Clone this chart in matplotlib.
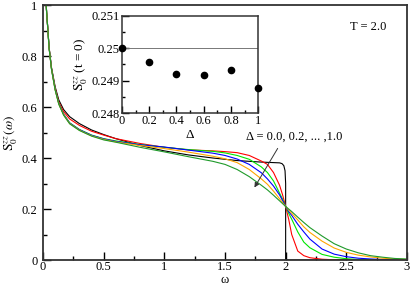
import numpy as np
import matplotlib
matplotlib.use("Agg")
import matplotlib.pyplot as plt
from matplotlib.ticker import MultipleLocator, FormatStrFormatter

plt.rcParams['font.family'] = ['Liberation Serif', 'DejaVu Serif']
plt.rcParams['mathtext.fontset'] = 'stix'

# dati
omega = [0.02, 0.03, 0.04, 0.05, 0.07, 0.1, 0.13, 0.17, 0.22, 0.3, 0.4, 0.5, 0.6, 0.8,
         1.0, 1.2, 1.4, 1.5, 1.6, 1.7, 1.8, 1.85, 1.9, 1.95, 1.975, 2.0, 2.025, 2.05,
         2.1, 2.15, 2.2, 2.3, 2.4, 2.5, 2.6, 2.7, 2.8, 2.9, 3.0]

omega_d0 = [0.02, 0.03, 0.04, 0.05, 0.07, 0.1, 0.13, 0.17, 0.22, 0.3, 0.4, 0.5, 0.6, 0.8,
            1.0, 1.2, 1.4, 1.6, 1.8, 1.9, 1.95, 1.97, 1.985, 1.995, 2.0, 2.0, 3.0]
s_d0 = [1.06, 0.97, 0.905, 0.835, 0.755, 0.68, 0.628, 0.59, 0.562, 0.535, 0.51, 0.492, 0.476, 0.449,
        0.428, 0.412, 0.40, 0.39, 0.384, 0.382, 0.381, 0.378, 0.37, 0.35, 0.30, 0.0, 0.0]

s_d02 = [1.06, 0.97, 0.905, 0.835, 0.753, 0.675, 0.62, 0.582, 0.553, 0.528, 0.505, 0.49, 0.476, 0.457,
         0.442, 0.432, 0.428, 0.425, 0.421, 0.41, 0.388, 0.375, 0.343, 0.293, 0.255, 0.21, 0.16, 0.10,
         0.035, 0.017, 0.009, 0.003, 0.001, 0.0, 0.0, 0.0, 0.0, 0.0, 0.0]
s_d04 = [1.06, 0.97, 0.905, 0.833, 0.75, 0.67, 0.615, 0.572, 0.538, 0.512, 0.49, 0.476, 0.467, 0.453,
         0.442, 0.433, 0.426, 0.42, 0.41, 0.395, 0.365, 0.343, 0.31, 0.262, 0.238, 0.21, 0.183, 0.16,
         0.11, 0.07, 0.048, 0.022, 0.011, 0.005, 0.002, 0.001, 0.0, 0.0, 0.0]
s_d06 = [1.06, 0.97, 0.905, 0.833, 0.75, 0.67, 0.614, 0.571, 0.537, 0.511, 0.489, 0.475, 0.465, 0.452,
         0.443, 0.431, 0.419, 0.41, 0.396, 0.375, 0.342, 0.318, 0.29, 0.255, 0.233, 0.21, 0.19, 0.175,
         0.14, 0.11, 0.082, 0.043, 0.023, 0.013, 0.007, 0.004, 0.002, 0.001, 0.0]
s_d08 = [1.06, 0.97, 0.905, 0.832, 0.749, 0.668, 0.612, 0.569, 0.535, 0.509, 0.487, 0.473, 0.463, 0.449,
         0.437, 0.423, 0.407, 0.397, 0.382, 0.355, 0.318, 0.297, 0.27, 0.24, 0.225, 0.21, 0.196, 0.183,
         0.157, 0.13, 0.108, 0.074, 0.047, 0.03, 0.019, 0.012, 0.007, 0.004, 0.002]
s_d10 = [1.06, 0.97, 0.905, 0.832, 0.748, 0.667, 0.611, 0.568, 0.534, 0.508, 0.486, 0.471, 0.462, 0.442,
         0.424, 0.405, 0.387, 0.375, 0.355, 0.327, 0.293, 0.275, 0.254, 0.232, 0.221, 0.21, 0.2, 0.19,
         0.168, 0.147, 0.127, 0.094, 0.064, 0.043, 0.028, 0.017, 0.011, 0.006, 0.004]

colori = ['black', 'red', '#00e600', 'blue', 'orange', '#1f9a2a']

# inserto: S(t=0) in funzione di Delta
delta = [0.0, 0.2, 0.4, 0.6, 0.8, 1.0]
s_t0 = [0.25, 0.24959, 0.24922, 0.24919, 0.24934, 0.24879]

fs = 9

fig = plt.figure(figsize=(4.11, 2.85), dpi=100)
ax = fig.add_axes([0.1046, 0.0877, 0.8856, 0.8947])

ax.plot(omega_d0, s_d0, color=colori[0], lw=0.8)
for s, c in zip([s_d02, s_d04, s_d06, s_d08, s_d10], colori[1:]):
    ax.plot(omega, s, color=c, lw=0.8)

ax.set_xlim(0, 3)
ax.set_ylim(0, 1)
ax.xaxis.set_major_locator(MultipleLocator(0.5))
ax.xaxis.set_minor_locator(MultipleLocator(0.25))
ax.yaxis.set_major_locator(MultipleLocator(0.2))
ax.yaxis.set_minor_locator(MultipleLocator(0.1))
ax.xaxis.set_major_formatter(FormatStrFormatter('%g'))
ax.yaxis.set_major_formatter(FormatStrFormatter('%g'))
ax.tick_params(which='both', direction='in', labelsize=fs, width=1.0, top=False, right=False)
ax.tick_params(which='major', length=6)
ax.tick_params(axis='x', which='major', pad=1)
ax.tick_params(axis='y', which='major', pad=4)
ax.tick_params(which='minor', length=3)
for sp in ax.spines.values():
    sp.set_linewidth(1.3)
    sp.set_color('#333333')
ax.set_xlabel('ω', fontsize=fs)
ax.xaxis.set_label_coords(0.5, -0.053)
ax.set_ylabel(r'$\mathrm{S}_0^{zz}\,(\omega)$', fontsize=fs + 0.5, labelpad=1)

ax.text(2.68, 0.915, 'T = 2.0', fontsize=fs, ha='center', va='center')
ax.text(2.07, 0.484, 'Δ = 0.0, 0.2, ... ,1.0', fontsize=fs, ha='center', va='center')
ax.annotate('', xy=(1.731, 0.275), xytext=(1.946, 0.447),
            arrowprops=dict(arrowstyle='-|>', color='#333333', lw=0.7, mutation_scale=7))

ins = fig.add_axes([0.2968, 0.6025, 0.3316, 0.3425])
ins.axhline(0.25, color='#777777', lw=0.7)
ins.plot(delta, s_t0, 'o', color='black', markersize=4.5, clip_on=False, zorder=5)
ins.set_xlim(0, 1)
ins.set_ylim(0.248, 0.251)
ins.xaxis.set_major_locator(MultipleLocator(0.2))
ins.xaxis.set_minor_locator(MultipleLocator(0.1))
ins.yaxis.set_major_locator(MultipleLocator(0.001))
ins.yaxis.set_minor_locator(MultipleLocator(0.0005))
ins.xaxis.set_major_formatter(FormatStrFormatter('%g'))
ins.yaxis.set_major_formatter(FormatStrFormatter('%g'))
ins.tick_params(which='both', direction='in', labelsize=fs, width=1.0, top=False, right=False)
ins.tick_params(which='major', length=5, pad=1.5)
ins.tick_params(which='minor', length=2.5)
for sp in ins.spines.values():
    sp.set_linewidth(1.1)
    sp.set_color('#333333')
ins.set_xlabel('Δ', fontsize=fs + 0.5, labelpad=1)
ins.set_ylabel(r'$\mathrm{S}_0^{zz}$ (t = 0)', fontsize=fs + 0.5, labelpad=1)

fig.savefig('out.png', dpi=100)
